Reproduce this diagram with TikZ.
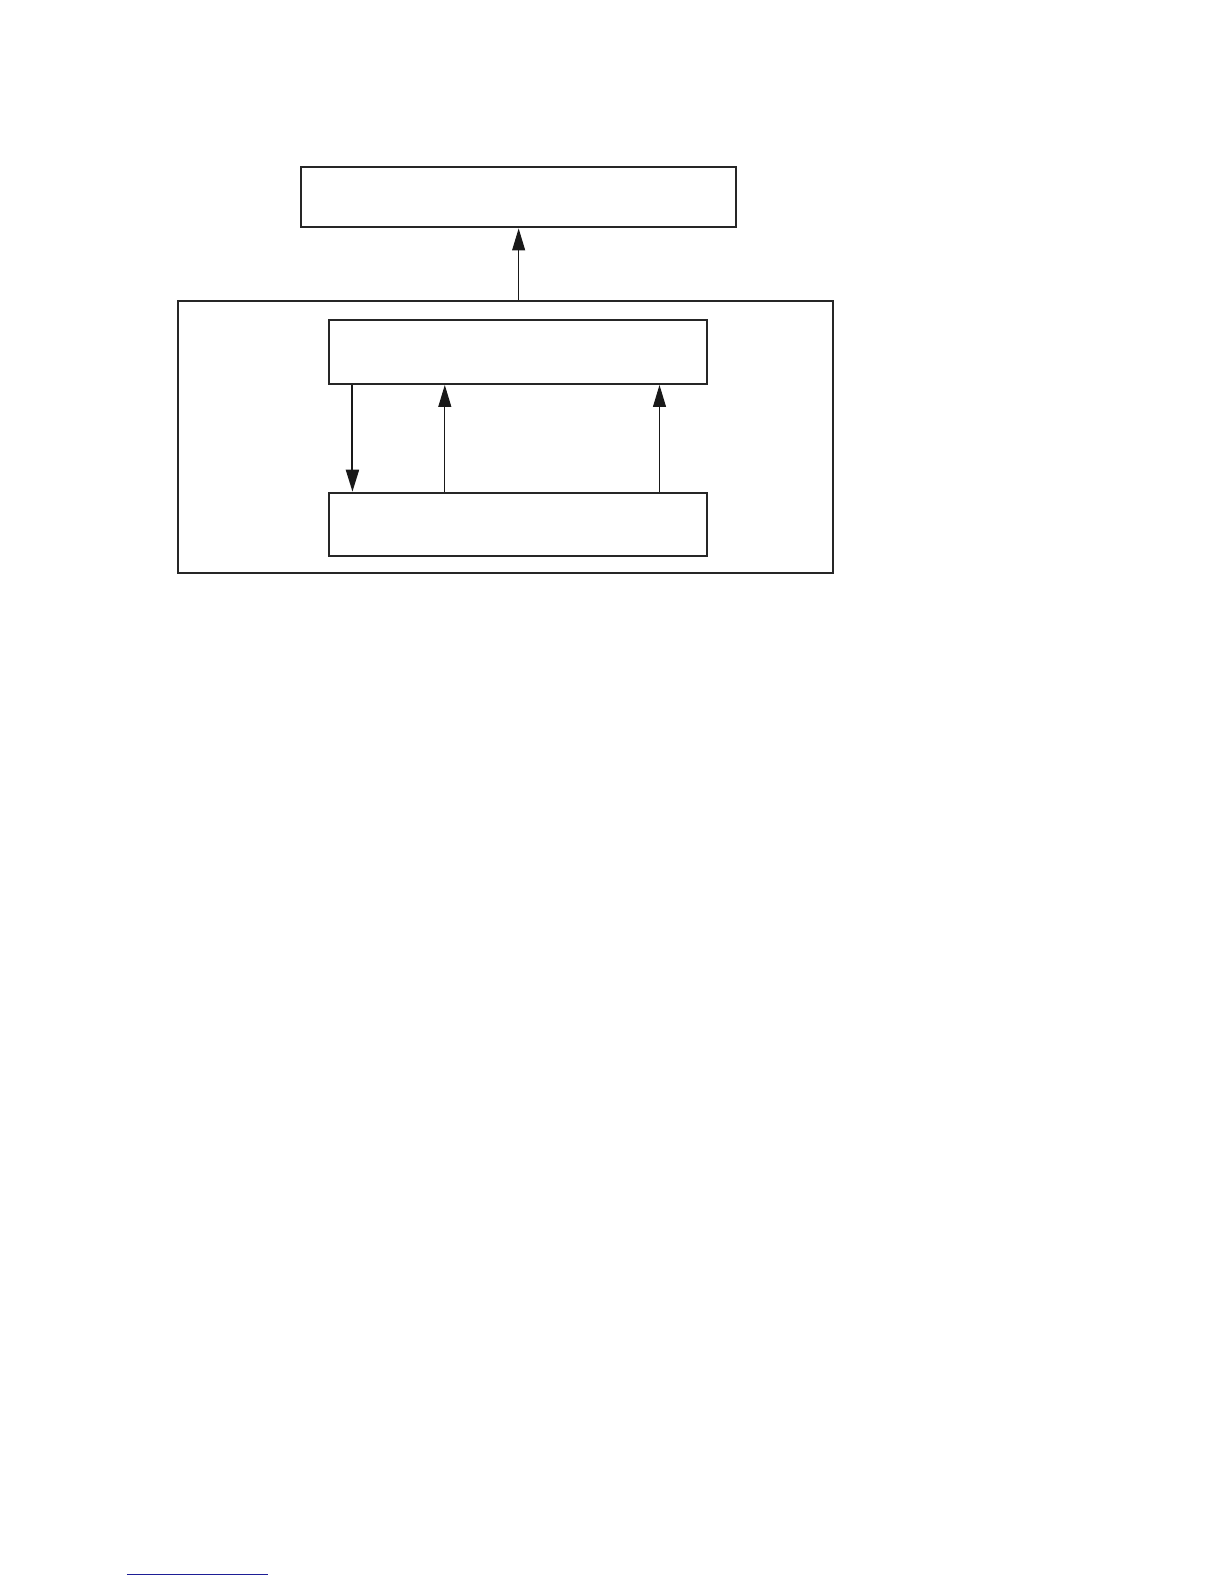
\documentclass[tikz,border=0pt]{standalone}
\usepackage{xcolor}
\usepackage{tikz}
\usetikzlibrary{calc, arrows.meta}

\definecolor{linkblue}{RGB}{30,30,150}

\begin{document}
\begin{tikzpicture}[x=0.505pt, y=-0.505pt,
		box/.style = {draw=black!85, line width=1pt, inner sep=0pt},
		flow/.style = {draw=black!90, line width=0.5pt, -{Triangle[length=11pt, width=6.5pt]}},
		boldflow/.style = {flow, line width=1pt}]
			\useasboundingbox (0pt,0pt) rectangle (612pt,-792pt);
			
			\node [box, minimum width=217.5pt, minimum height=30pt] (output) at (513.5,195.5) {};
			\node [box, minimum width=327.5pt, minimum height=136pt] (frame) at (500.5,432.5) {};
			\node [box, minimum width=189pt, minimum height=32pt] (upper) at (513,348.5) {};
			\node [box, minimum width=189pt, minimum height=31.5pt] (lower) at (513,519) {};
			
			\draw [flow] (frame.north -| output.south) -- (output.south);
			\draw [boldflow] ($(upper.south west)!0.064!(upper.south east)$) -- ($(lower.north west)!0.064!(lower.north east)$);
			\draw [flow] ($(lower.north west)!0.307!(lower.north east)$) -- ($(upper.south west)!0.307!(upper.south east)$);
			\draw [flow] ($(lower.north west)!0.872!(lower.north east)$) -- ($(upper.south west)!0.872!(upper.south east)$);
			
			\coordinate (rule a) at (125.7,1559);
			\coordinate (rule b) at (265.3,1559);
			\draw [linkblue, line width=0.6pt] (rule a) -- (rule b);
		\end{tikzpicture}
\end{document}
